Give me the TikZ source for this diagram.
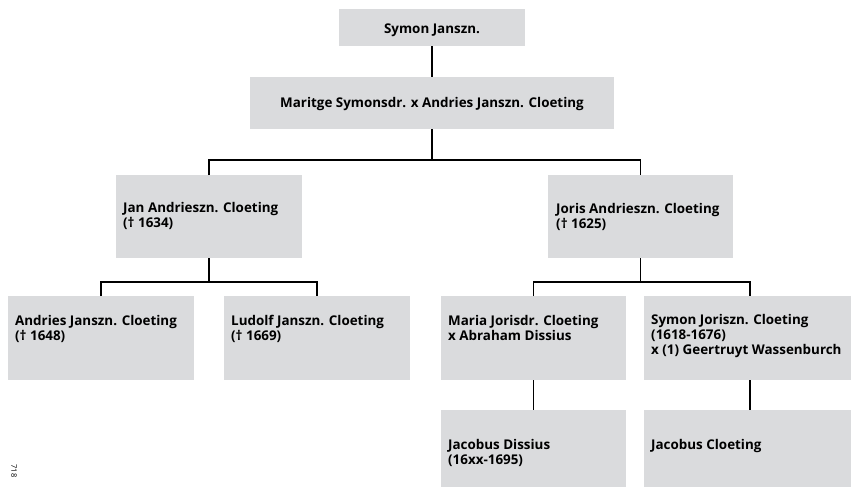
\documentclass[tikz,border=0pt]{standalone}
\usepackage{fontspec}
\setmainfont{Open Sans}
\definecolor{boxgrey}{RGB}{218,219,221}
\tikzset{
  box/.style={fill=boxgrey, inner sep=0pt, outer sep=0pt},
  txt/.style={inner sep=0pt, align=left, font=\bfseries\fontsize{13.4}{15}\selectfont},
  ctxt/.style={inner sep=0pt, align=center, font=\bfseries\fontsize{13.4}{15}\selectfont},
  link/.style={draw=black, line width=1.1pt}
}
\begin{document}
\begin{tikzpicture}[x=1pt,y=-1pt]
\path[use as bounding box, clip] (0,0) rectangle (851,488);
% boxes
\node[box, minimum width=186pt, minimum height=37pt] (top) at (432,27.5) {};
\node[box, minimum width=364pt, minimum height=52pt] (mar) at (432,103) {};
\node[box, minimum width=186pt, minimum height=83pt] (jan) at (209,216.5) {};
\node[box, minimum width=185pt, minimum height=83pt] (joris) at (640.5,216.5) {};
\node[box, minimum width=186pt, minimum height=84pt] (andries) at (101,338) {};
\node[box, minimum width=186pt, minimum height=84pt] (ludolf) at (317,338) {};
\node[box, minimum width=185pt, minimum height=84pt] (maria) at (533.5,338) {};
\node[box, minimum width=212pt, minimum height=84pt] (symonj) at (750,338) {};
\node[box, minimum width=185pt, minimum height=77pt] (jdis) at (533.5,448.5) {};
\node[box, minimum width=212pt, minimum height=77pt] (jclo) at (750,448.5) {};
% texts (anchor = baseline of the last line)
\node[ctxt, anchor=base] (topT) at (432,33) {Symon Janszn.};
\node[ctxt, anchor=base] (marT) at (432,107) {Maritge Symonsdr. x Andries Janszn. Cloeting};
\node[txt, anchor=base west] (janT) at (123,227.5) {Jan Andrieszn. Cloeting\\(† 1634)};
\node[txt, anchor=base west] (jorisT) at (556,228) {Joris Andrieszn. Cloeting\\(† 1625)};
\node[txt, anchor=base west] (andriesT) at (15,340) {Andries Janszn. Cloeting\\(† 1648)};
\node[txt, anchor=base west] (ludolfT) at (231,340) {Ludolf Janszn. Cloeting\\(† 1669)};
\node[txt, anchor=base west] (mariaT) at (448,340) {Maria Jorisdr. Cloeting\\x Abraham Dissius};
\node[txt, anchor=base west] (symonjT) at (651,354) {Symon Joriszn. Cloeting\\(1618-1676)\\x (1) Geertruyt Wassenburch};
\node[txt, anchor=base west] (jdisT) at (448,464) {Jacobus Dissius\\(16xx-1695)};
\node[txt, anchor=base west] (jcloT) at (651,449) {Jacobus Cloeting};
% page number
\node[inner sep=0pt, rotate=-90, font=\fontsize{7.5}{8}\selectfont] (page) at (14,471) {718};
% bus points
\coordinate (b1) at (432,160);
\coordinate (b2) at (209,282);
\coordinate (b3) at (640.5,282);
% connectors
\draw[link] (top.south) -- (mar.north);
\draw[link] (mar.south) -- (b1);
\draw[link] (jan.north) |- (b1) -| (joris.north);
\draw[link] (jan.south) -- (b2);
\draw[link] (andries.north) |- (b2) -| (ludolf.north);
\draw[link] (joris.south) -- (b3);
\draw[link] (maria.north) |- (b3) -| (symonj.north);
\draw[link] (maria.south) -- (jdis.north);
\draw[link] (symonj.south) -- (jclo.north);
\end{tikzpicture}
\end{document}
